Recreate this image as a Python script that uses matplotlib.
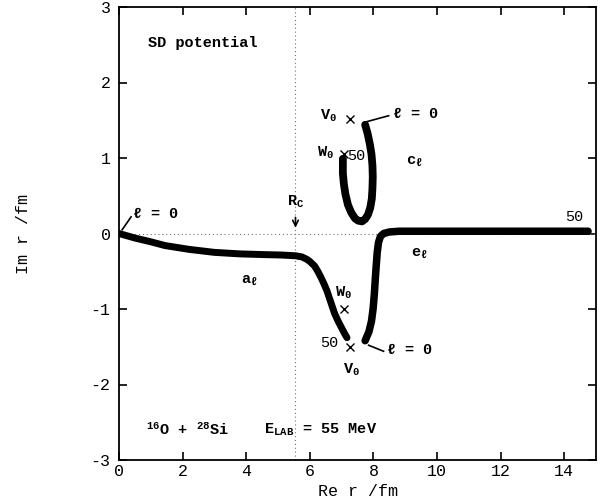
import numpy as np
import matplotlib
matplotlib.use("Agg")
import matplotlib.pyplot as plt

plt.rcParams["font.family"] = ["Liberation Mono", "DejaVu Sans Mono"]
plt.rcParams["mathtext.fontset"] = "custom"
plt.rcParams["mathtext.rm"] = "Liberation Mono:bold"
plt.rcParams["mathtext.it"] = "Liberation Mono:bold"
plt.rcParams["mathtext.bf"] = "Liberation Mono:bold"

# trajectory a_l (l = 0 .. 50)
a_re = [0.0, 0.5, 1.0, 1.45, 2.2, 3.0, 3.8, 4.6, 5.1, 5.55, 5.75, 5.9, 6.0,
        6.15, 6.25, 6.35, 6.45, 6.54, 6.62, 6.7, 6.78, 6.89, 7.0, 7.1, 7.17]
a_im = [0.0, -0.06, -0.11, -0.16, -0.21, -0.25, -0.27, -0.28, -0.285, -0.295,
        -0.31, -0.34, -0.37, -0.43, -0.50, -0.58, -0.67, -0.76, -0.86, -0.96,
        -1.06, -1.16, -1.25, -1.33, -1.38]
# trajectory c_l
c_re = [7.74, 7.82, 7.89, 7.94, 7.97, 7.98, 7.97, 7.95, 7.90, 7.83, 7.74,
        7.64, 7.52, 7.42, 7.30, 7.20, 7.12, 7.07, 7.04, 7.04]
c_im = [1.44, 1.32, 1.18, 1.05, 0.90, 0.75, 0.60, 0.46, 0.34, 0.25, 0.19,
        0.16, 0.17, 0.20, 0.28, 0.38, 0.52, 0.66, 0.80, 0.99]
# trajectory e_l
e_re = [7.74, 7.86, 7.94, 7.99, 8.03, 8.06, 8.09, 8.12, 8.16, 8.22, 8.32,
        8.5, 8.8, 10.0, 12.0, 14.0, 14.75]
e_im = [-1.42, -1.30, -1.16, -1.00, -0.80, -0.60, -0.42, -0.25, -0.12, -0.04,
        0.0, 0.02, 0.03, 0.03, 0.03, 0.03, 0.03]

# potential poles
v0_re = [7.26, 7.27]
v0_im = [1.52, -1.50]
w0_re = [7.07, 7.08]
w0_im = [1.05, -1.00]

r_coul = 5.55
xticks = [0, 2, 4, 6, 8, 10, 12, 14]
yticks = [-3, -2, -1, 0, 1, 2, 3]
ytick_labels = ["-3", "-2", "-1", "0", "1", "2", "3"]

fig = plt.figure(figsize=(6.02, 5.0), dpi=100)
ax = fig.add_axes([119 / 602, 40 / 500, 477 / 602, 453 / 500])

ax.axvline(r_coul, color="0.45", lw=0.8, ls=(0, (1, 2.5)))
ax.axhline(0, color="0.45", lw=0.8, ls=(0, (1, 2.5)))

for xs, ys, w in [(a_re, a_im, 5.0), (c_re, c_im, 5.6), (e_re, e_im, 5.4)]:
    ax.plot(xs, ys, color="black", lw=w, solid_capstyle="round",
            solid_joinstyle="round")

ax.plot(v0_re + w0_re, v0_im + w0_im, "x", color="black", ms=6, mew=1.0)

tk = dict(color="black", fontsize=11)
ax.text(0.9, 2.52, "SD potential", fontweight="bold", va="center", **tk)
ax.text(0.42, 0.27, r"$\ell$ = 0", fontweight="bold", va="center", **tk)
ax.plot([0.1, 0.38], [0.05, 0.22], color="black", lw=1.2)
ax.text(r_coul, 0.42, r"$\mathrm{R_C}$", ha="center", va="center", **tk)
ax.annotate("", xy=(r_coul, 0.04), xytext=(r_coul, 0.25),
            arrowprops=dict(arrowstyle="->", color="black", lw=1.2))
ax.text(4.1, -0.62, r"$\mathrm{a}_\ell$", ha="center", va="center", **tk)
ax.text(9.45, -0.27, r"$\mathrm{e}_\ell$", ha="center", va="center", **tk)
ax.text(9.3, 0.95, r"$\mathrm{c}_\ell$", ha="center", va="center", **tk)

ax.text(6.6, 1.56, r"$\mathrm{V_0}$", ha="center", va="center", **tk)
ax.plot([7.78, 8.48], [1.48, 1.56], color="black", lw=1.2)
ax.text(8.58, 1.59, r"$\ell$ = 0", fontweight="bold", va="center", **tk)
ax.text(6.5, 1.07, r"$\mathrm{W_0}$", ha="center", va="center", **tk)
ax.text(7.18, 1.02, "50", va="center", **tk)

ax.text(7.05, -0.78, r"$\mathrm{W_0}$", ha="center", va="center", **tk)
ax.text(6.9, -1.45, "50", ha="right", va="center", **tk)
ax.text(7.3, -1.8, r"$\mathrm{V_0}$", ha="center", va="center", **tk)
ax.plot([7.85, 8.32], [-1.48, -1.56], color="black", lw=1.2)
ax.text(8.4, -1.53, r"$\ell$ = 0", fontweight="bold", va="center", **tk)
ax.text(14.6, 0.22, "50", ha="right", va="center", **tk)

ax.text(0.85, -2.6, r"$^{\mathrm{16}}\mathrm{O}$ + $^{\mathrm{28}}\mathrm{Si}$",
        fontweight="bold", va="center", **tk)
ax.text(4.55, -2.6, r"$\mathrm{E_{LAB}}$ = 55 MeV", fontweight="bold",
        va="center", **tk)

ax.set_xlim(0, 15)
ax.set_ylim(-3, 3)
ax.set_xticks(xticks)
ax.set_yticks(yticks)
ax.set_yticklabels(ytick_labels)
ax.tick_params(direction="in", length=6, width=1.2, top=True, right=True,
               labelsize=12, pad=6)
ax.tick_params(axis="x", pad=3)
for sp in ax.spines.values():
    sp.set_linewidth(1.3)

ax.set_xlabel("Re r /fm", fontsize=12)
ax.set_ylabel("Im r /fm", fontsize=12)
ax.xaxis.set_label_coords(0.5, -0.053)
ax.yaxis.set_label_coords(-0.185, 0.5)

fig.savefig("out.png", dpi=100)
